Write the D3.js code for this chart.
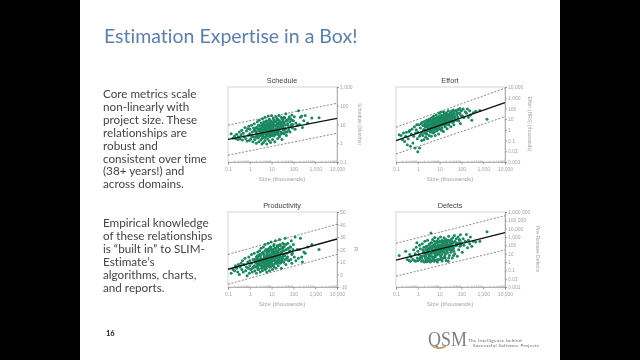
<!DOCTYPE html>
<html><head><meta charset="utf-8">
<script src="https://cdnjs.cloudflare.com/ajax/libs/d3/7.8.5/d3.min.js"></script>
<style>html,body{margin:0;padding:0;background:#000;overflow:hidden}svg{display:block;filter:blur(.25px);font-variant-ligatures:none}</style>
</head><body><svg id="c" width="640" height="360"></svg>
<script>
const slideTitle="Estimation Expertise in a Box!";
const paragraphOne=["Core metrics scale","non-linearly with","project size. These","relationships are","robust and","consistent over time","(38+ years!) and","across domains."];
const paragraphTwo=["Empirical knowledge","of these relationships","is “built in” to SLIM-","Estimate’s","algorithms, charts,","and reports."];
const xTicks=[0.1,1,10,100,1000,10000];
const fitSizes=[0.1,10000];
const sizes=[0.14,0.17,0.2,0.22,0.25,0.28,0.3,0.33,0.36,0.4,
0.43,0.46,0.5,0.55,0.6,0.65,0.7,0.75,0.8,0.85,
0.9,0.95,1,1,1.1,1.2,1.2,1.3,1.4,1.5,
1.6,1.7,1.8,1.9,2,2,2.1,2.2,2.3,2.4,
2.5,2.6,2.7,2.8,3,3,3.2,3.3,3.5,3.6,
3.8,4,4,4.2,4.4,4.6,4.8,5,5,5.3,
5.5,5.8,6,6,6.3,6.6,7,7,7.4,7.8,
8,8.5,9,9,9.5,10,10,11,11,12,
12,13,13,14,15,15,16,17,18,19,
20,20,22,23,25,26,28,30,30,33,
35,38,40,42,45,48,50,55,60,65,
70,75,80,85,90,100,110,120,130,150,
170,190,210,240,260,300,350,450,700,1500,
3,4,5,6,7,8,10,12,15,18,
2.5,4.5,6.5,8.5,11,14,17,21,27,34,
1.5,1.7,2,2.2,2.4,2.6,2.8,3,3.2,3.4,
3.6,3.8,4,4.2,4.5,4.8,5,5.2,5.5,5.8,
6,6.2,6.5,6.8,7,7.3,7.6,8,8.3,8.7,
9,9.4,9.8,10,10.5,11,11.5,12,12.5,13,
13.5,14,15,16,17,18,19,20,21,22,
23,24,26,28,30,32,34,36,38,40,
43,46,50,54,58,62,68,75,85,95,
2,2.3,2.7,3.1,3.5,3.9,4.3,4.7,5.1,5.6,
6.1,6.6,7.1,7.7,8.2,8.8,9.3,9.9,10.4,11,
11.7,12.4,13.2,14,14.8,15.7,16.6,17.6,18.6,19.7,
21,22.5,24,25.5,27,29,31,33,35.5,38,
1.3,1.6,2.4,3.7,5.4,8,12,18,26,44];
const scheduleValues=[3.2,1.9,2.4,1.8,3,1.6,2.2,4,1.7,2.8,
5,1.5,3.4,2.2,7,1.8,4.5,1.3,6,2.6,
8,1.4,3.2,5.5,1.7,9,2.4,4,1.2,6.5,
11,1.6,4.5,2.2,7,1,3,14,1.9,5.5,
9,1.2,17,2.6,6,3.2,1.5,12,4.6,0.9,
20,2,7.5,1.1,14,3.4,5,24,1.4,9,
2.5,16,0.9,6.5,11,1.7,28,3.6,8,1.3,
19,4.4,1.1,10,2.8,30,7,1.6,13,4,
22,2.4,9,1.2,15,5.4,26,3.3,11,1.8,
18,4,30,2.2,12,6.5,24,1.6,9.5,3.4,
14,3.2,22,6,38,2.6,17,9,5,26,
4,20,10,32,6.5,16,26,5.5,12,9,
54,10,24,28,7,16,30,12,22,23,
5,3,7,4,9,6,3.5,8,5,10,
3,6,4.5,8,6,4,9,7,10,6,
2.2,5.5,3,7,2,4.5,8.5,2.6,6,3.6,
9,2.8,5,11,3.2,7,2,13,4,6,
2.4,9,5,15,3,7.5,4.2,11,2.2,6,
16,3.4,8,5,2.6,12,6.5,3.8,18,4.6,
9,2.8,14,6,3.6,20,8,4.8,12,2.8,
16,6,10,3.6,20,7,13,5,24,9,
6,15,4,11,19,7,14,8,17,10,
4,2.8,5.5,3.2,7,2.4,5,9,3.4,6.5,
2.8,8,4.2,11,3,6,14,4.5,7.5,3.4,
10,5,13,3.8,8,16,4.4,9,6,12,
5,15,7,10,4,13,8,18,6,11,
2.2,4.6,2,1.8,2.2,2.4,2.6,3,3,4];
const scheduleFit=[1.6,21.5],scheduleUpper=[9.3,135],scheduleLower=[0.23,3.4];
const effortValues=[0.35,0.3,0.12,0.5,0.08,0.25,0.6,0.04,0.15,0.7,
0.9,0.03,0.4,1.2,0.06,0.25,2,0.02,0.5,1,
3,0.15,0.009,0.6,3,0.25,0.02,1.5,4,0.1,
5,0.3,1,0.12,3,6,0.5,1.8,0.2,4,
8,0.4,2.2,0.15,6,1,10,0.3,3,8,
0.6,12,2,0.25,7,4,16,0.5,1.4,11,
20,0.7,5,1.5,0.3,12,3,25,0.8,8,
2,16,0.4,6,35,1.2,10,3.5,45,0.9,
22,1.5,14,5,50,0.7,8,32,2.5,18,
4,40,1.3,12,60,3,25,8,38,2,
55,5,18,70,3,30,12,65,8,40,
80,7,35,100,4,60,20,90,14,50,
35,90,15,60,25,8,40,55,64,10,
1.2,3,2,4.5,2.8,6,4,8,6,11,
2,2.5,6,3.5,9,7,13,9,20,14,
0.5,2.5,1,3.5,0.7,2,5,0.9,3,1.5,
6,1.2,2.8,0.8,4.5,1.8,8,1.1,3.5,6,
1.4,10,2.5,5,1.3,9,3.2,14,2,6,
1.7,18,4.5,8,2.4,12,5,3,22,7,
2.8,14,6,28,3.5,10,35,5,18,7,
30,9,14,5,24,40,11,8,30,16,
12,45,18,9,60,25,15,70,35,22,
1,2,0.8,3,1.5,0.7,4,2,1.2,5,
2.5,1.4,6,3,9,2,5,12,3.5,8,
2.8,15,5,9,3.5,18,7,11,4.5,20,
6,14,25,9,5,18,30,12,8,22,
0.35,0.5,0.4,0.7,0.6,1,1.3,2,3,6];
const effortFit=[0.1,350],effortUpper=[1.75,7800],effortLower=[0.0056,17];
const productivityValues=[1,4,3,7,5,2,8,0,6,9,
4,11,2,8,13,3,6,-1,10,5,
14,1,7,11,4,16,9,2,12,6,
17,3,10,6,14,1,12,8,18,5,
4,15,9,19,2,12,7,21,5,11,
3,17,10,22,6,14,8,24,4,12,
20,5,13,2,16,9,25,7,11,18,
3,22,10,6,26,14,8,18,4,20,
12,24,6,16,9,27,5,19,11,22,
7,23,13,28,9,17,5,21,12,25,
10,24,15,29,8,20,13,25,11,18,
22,12,27,9,17,24,14,30,11,20,
13,20,29,14,10,18,17,22,24,20,
8,12,10,14,9,15,12,16,13,17,
10,13,9,15,12,14,17,13,18,15,
6,12,9,15,7,11,16,8,13,10,
17,7,12,18,9,14,6,19,11,15,
8,18,13,20,10,15,7,21,12,16,
9,22,14,10,19,12,17,8,23,13,
18,11,21,15,9,23,13,18,10,20,
14,24,11,17,21,13,19,10,22,15,
12,24,17,14,21,11,19,22,16,20,
10,13,8,15,11,9,16,12,14,10,
17,13,11,19,9,15,12,20,14,17,
11,18,13,21,15,10,19,14,22,16,
12,20,15,23,11,18,14,22,16,19,
5,7,4,5,6,6,7,9,10,12];
const productivityFit=[4.2,28.4],productivityUpper=[16.1,40.2],productivityLower=[-7.8,16.1];
const defectValues=[6,null,null,null,null,20,null,2,null,1.5,
8,1.2,4,null,2,30,1.5,10,1.2,60,
200,3,20,1.5,8,100,2,40,5,1.2,
150,1.5,15,60,1,6,300,3,30,1.2,
80,1.1,12,400,3,40,1.2,20,150,5,
1,3000,8,200,1.5,50,500,3,15,100,
1.2,300,20,900,4,80,1.5,30,200,8,
1,600,10,100,2,40,300,5,1000,20,
70,1.3,400,15,150,3,800,40,8,250,
1.5,500,30,100,1.2,1200,6,200,50,15,
300,3,800,60,20,1500,10,200,100,5,
1000,30,500,80,1800,200,15,600,100,300,
2000,50,400,150,1000,80,300,250,300,4400,
20,50,15,80,30,60,100,25,70,120,
12,40,60,25,90,50,35,150,80,200,
3,30,null,8,60,null,15,2,100,5,
null,40,10,200,null,4,25,80,2,null,
12,150,30,null,6,60,300,null,20,100,
9,null,40,250,15,null,70,3,120,30,
null,200,18,60,5,400,null,35,110,null,
12,300,50,null,150,25,500,null,80,200,
40,null,300,90,600,150,null,200,400,100,
15,5,30,8,50,12,80,4,25,120,
7,40,15,200,30,10,100,20,60,250,
25,8,90,150,35,300,50,14,120,70,
200,22,90,400,40,130,60,250,30,150,
3,5,2,2,2,2,2,3,3,6];
const defectFit=[1.7,3300],defectUpper=[175,360000],defectLower=[0.02,28];
const scheduleTicks=[0.1,1,10,100,1000];
const effortTicks=[0.001,0.01,0.1,1,10,100,1000,10000];
const productivityTicks=[-10,0,10,20,30,40,50];
const defectTicks=[0.001,0.01,0.1,1,10,100,1000,10000,100000,1000000];

const svg=d3.select("#c");
svg.append("rect").attr("x",80).attr("y",0).attr("width",480).attr("height",360).attr("fill","#fff");
const SANS="Lato, 'Open Sans', sans-serif";
svg.append("text").text(slideTitle).attr("x",104).attr("y",43).attr("font-family",SANS).attr("font-size",19.5).attr("fill","#5d80a9");
function para(lines,y0){
  svg.append("g").selectAll("text").data(lines).join("text").text(d=>d)
   .attr("x",103).attr("y",(d,i)=>y0+i*12.9).attr("font-family",SANS).attr("font-size",11.7).attr("fill","#444");
}
para(paragraphOne,98);para(paragraphTwo,227);
svg.append("text").text("16").attr("x",106).attr("y",336).attr("font-family",SANS).attr("font-weight",700).attr("font-size",7.5).attr("fill","#222");
svg.append("text").text("QSM").attr("x",428).attr("y",346).attr("font-family","'Liberation Serif',serif").attr("font-size",20).attr("textLength",39).attr("lengthAdjust","spacingAndGlyphs").attr("fill","#808080");
svg.append("path").attr("d","M431 345 Q438 351 446 346").attr("fill","none").attr("stroke","#c79a63").attr("stroke-width",1.6);
svg.append("text").text("The Intelligence behind").attr("x",468).attr("y",341.5).attr("font-family",SANS).attr("font-size",4.6).attr("letter-spacing",.3).attr("fill","#666");
svg.append("text").text("Successful Software Projects").attr("x",473).attr("y",347).attr("font-family",SANS).attr("font-size",4.6).attr("letter-spacing",.3).attr("fill","#666");

const fmt=d3.format(",");
function fmtTick(v){return v<1?String(v):fmt(v);}
function minorLog(lo,hi){const out=[];for(let e=Math.round(Math.log10(lo));e<Math.round(Math.log10(hi));e++)for(let m=2;m<10;m++)out.push(m*Math.pow(10,e));return out;}
function panel(p){
  const x=d3.scaleLog().domain([0.1,10000]).range([p.l,p.l+109]);
  const y=(p.log?d3.scaleLog():d3.scaleLinear()).domain(p.domain).range([p.t+75,p.t]);
  const g=svg.append("g");
  g.append("rect").attr("x",p.l).attr("y",p.t).attr("width",109).attr("height",75).attr("fill","#fff").attr("stroke","#c8c8c8").attr("stroke-width",.8);
  const dots=sizes.map((s,i)=>[s,p.values[i]]).filter(d=>d[1]!==null);
  g.append("g").selectAll("circle").data(dots).join("circle").attr("cx",d=>x(d[0])).attr("cy",d=>y(d[1])).attr("r",1.5).attr("fill","#1c8862");
  const line=d3.line().x(d=>x(d[0])).y(d=>y(d[1]));
  [p.upper,p.lower].forEach(a=>g.append("path").attr("d",line(fitSizes.map((s,i)=>[s,a[i]]))).attr("fill","none").attr("stroke","#555").attr("stroke-width",.7).attr("stroke-dasharray","2,1.6"));
  g.append("path").attr("d",line(fitSizes.map((s,i)=>[s,p.fit[i]]))).attr("fill","none").attr("stroke","#111").attr("stroke-width",1.3);
  const styleAxis=s=>{s.select(".domain").attr("stroke","#999").attr("stroke-width",.7);s.selectAll("line").attr("stroke","#777").attr("stroke-width",.6);s.selectAll("text").attr("font-family","'Liberation Sans',Arial,sans-serif").attr("font-size",5).attr("fill","#a3a3a3");};
  const xa=g.append("g").attr("transform",`translate(0,${p.t+75})`).call(d3.axisBottom(x).tickValues(xTicks).tickFormat(fmtTick).tickSize(2.5).tickPadding(3));
  styleAxis(xa);
  xa.selectAll(".m").data(minorLog(0.1,10000)).join("line").attr("class","m").attr("x1",d=>x(d)).attr("x2",d=>x(d)).attr("y1",0).attr("y2",-1.6).attr("stroke","#888").attr("stroke-width",.4);
  const ya=g.append("g").attr("transform",`translate(${p.l+109},0)`).call(d3.axisRight(y).tickValues(p.ticks).tickFormat(fmtTick).tickSize(2).tickPadding(1));
  styleAxis(ya);
  g.append("text").text(p.title).attr("x",p.l+54).attr("y",p.t-4).attr("text-anchor","middle").attr("font-family","'Liberation Sans',Arial,sans-serif").attr("font-size",7.3).attr("fill","#444");
  g.append("text").text("Size (thousands)").attr("x",p.l+54).attr("y",p.t+94).attr("text-anchor","middle").attr("font-family","'Liberation Sans',Arial,sans-serif").attr("font-size",6.2).attr("fill","#a3a3a3");
  g.append("text").text(p.yLabel).attr("transform",`translate(${p.yx},${p.t+37}) rotate(90)`).attr("text-anchor","middle").attr("font-family","'Liberation Sans',Arial,sans-serif").attr("font-size",5).attr("fill","#a3a3a3");
}
panel({l:228,t:87,log:true,domain:[0.1,1000],ticks:scheduleTicks,values:scheduleValues,fit:scheduleFit,upper:scheduleUpper,lower:scheduleLower,title:"Schedule",yLabel:"Schedule (Months)",yx:358});
panel({l:396,t:87,log:true,domain:[0.001,10000],ticks:effortTicks,values:effortValues,fit:effortFit,upper:effortUpper,lower:effortLower,title:"Effort",yLabel:"Effort (HRS) (thousands)",yx:528});
panel({l:228,t:212,log:false,domain:[-10,50],ticks:productivityTicks,values:productivityValues,fit:productivityFit,upper:productivityUpper,lower:productivityLower,title:"Productivity",yLabel:"PI",yx:354});
panel({l:396,t:212,log:true,domain:[0.001,1000000],ticks:defectTicks,values:defectValues,fit:defectFit,upper:defectUpper,lower:defectLower,title:"Defects",yLabel:"Pre-Release Defects",yx:536});
</script></body></html>
